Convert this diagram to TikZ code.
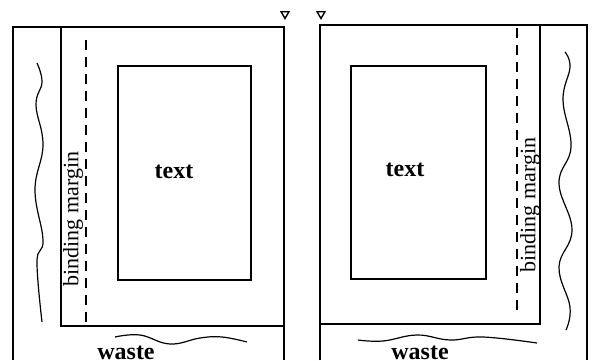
\documentclass[tikz,border=0pt]{standalone}
\usepackage{fontspec}
\setmainfont{Liberation Serif}
\usetikzlibrary{positioning,shapes.geometric}

\begin{document}
\begin{tikzpicture}[
  x=1pt, y=-1pt,
  edge/.style={line width=1.3pt},
  fold/.style={line width=1.3pt, dash pattern=on 10pt off 7pt},
  wave/.style={line width=1.2pt},
  cutmark/.style={draw, line width=1.4pt, regular polygon, regular polygon sides=3,
    shape border rotate=180, minimum size=9pt, inner sep=0pt},
  lbl/.style={inner sep=0pt, font=\fontsize{22}{22}\selectfont},
  big/.style={inner sep=0pt, font=\fontsize{24}{24}\selectfont\bfseries}
]
  \useasboundingbox (0,0) rectangle (592,360);
  % left page
  \draw[edge] (13,360) -- (13,27) -- (284,27) -- (284,360);
  \draw[edge] (61,27) -- (61,326) -- (284,326);
  \draw[fold] (86,40) -- (86,326);
  \draw[edge] (118,66) rectangle (251,280);
  \draw[wave] plot[smooth, tension=0.7] coordinates {(37,63) (42,82) (36,105) (43,145) (35,190) (43,240) (37,262) (42,322)};
  \draw[wave] plot[smooth, tension=0.7] coordinates {(115,337) (140,335) (170,344) (200,338) (222,337) (247,342)};
  \node[cutmark] (cutL) at (285,14) {};
  \node[big] (textL) at (174,172) {text};
  \node[lbl, rotate=90] (bindL) at (73,219) {binding margin};
  \node[big, anchor=base] (wasteL) at (126,359) {waste};
  % right page
  \draw[edge] (320,360) -- (320,25) -- (587,25) -- (587,360);
  \draw[edge] (540,25) -- (540,324) -- (320,324);
  \draw[fold] (517,28) -- (517,317);
  \draw[edge] (351,66) rectangle (486,279);
  \draw[wave] plot[smooth, tension=0.7] coordinates {(565,52) (570,67) (563,100) (571,147) (559,183) (572,230) (559,267) (570,307) (566,330)};
  \draw[wave] plot[smooth, tension=0.7] coordinates {(358,340) (383,341) (417,335) (450,340) (483,337) (537,343)};
  \node[cutmark] (cutR) at (321,14) {};
  \node[big] (textR) at (405,170) {text};
  \node[lbl, rotate=90] (bindR) at (530,205) {binding margin};
  \node[big, anchor=base] (wasteR) at (420,359) {waste};
\end{tikzpicture}
\end{document}
